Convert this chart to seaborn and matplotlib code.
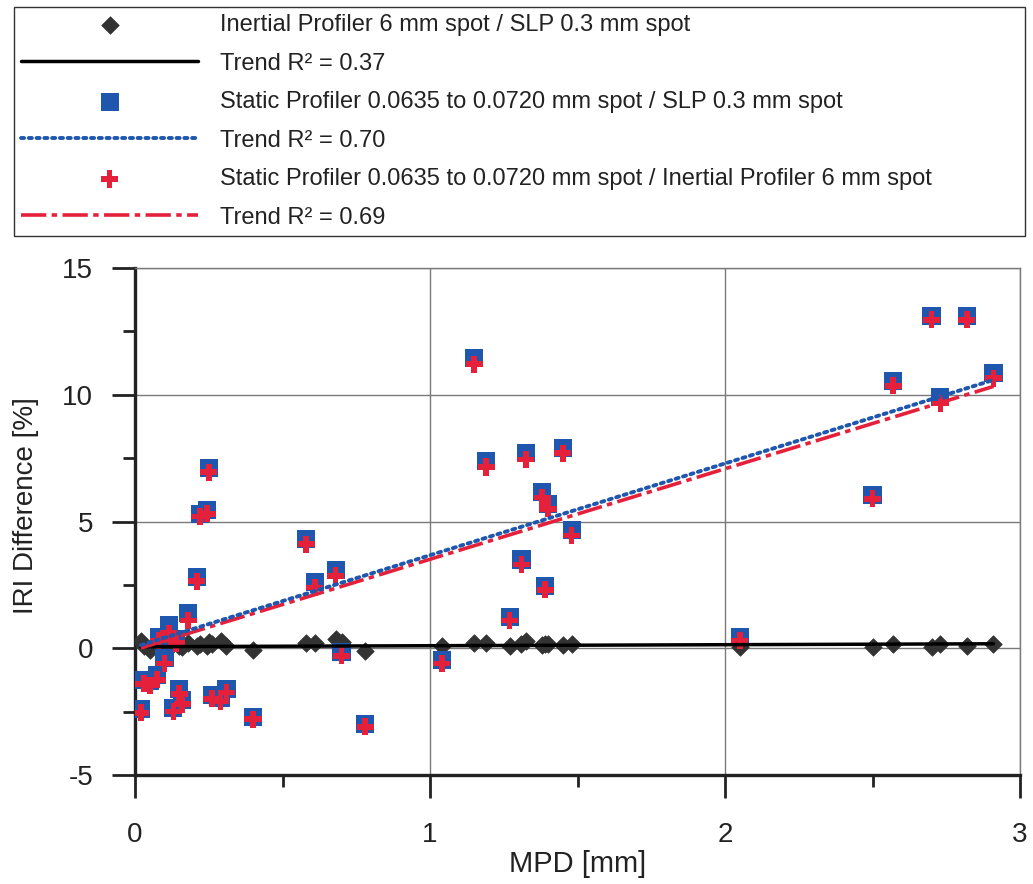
import numpy as np
import pandas as pd
import matplotlib
matplotlib.use("Agg")
import matplotlib.pyplot as plt
import seaborn as sns
from matplotlib.ticker import MultipleLocator

# ---- data ----
mpd = [0.02, 0.03, 0.05, 0.075, 0.08, 0.10, 0.115, 0.13, 0.14, 0.15, 0.16, 0.18,
       0.21, 0.22, 0.25, 0.245, 0.26, 0.29, 0.31, 0.40, 0.58, 0.61, 0.68, 0.70,
       0.78, 1.04, 1.15, 1.19, 1.27, 1.31, 1.325, 1.38, 1.39, 1.40, 1.45, 1.48,
       2.05, 2.50, 2.57, 2.70, 2.73, 2.82, 2.91]
inertial_vs_slp = [0.30, 0.10, -0.05, 0.20, 0.30, 0.10, 0.20, 0.15, 0.25, 0.10, 0.05, 0.20,
                   0.10, 0.15, 0.25, 0.10, 0.15, 0.30, 0.10, -0.05, 0.20, 0.20, 0.35, 0.25,
                   -0.10, 0.10, 0.20, 0.22, 0.08, 0.18, 0.30, 0.12, 0.18, 0.15, 0.12, 0.15,
                   0.05, 0.05, 0.18, 0.05, 0.18, 0.10, 0.18]
static_vs_slp = [-2.40, -1.25, -1.30, -1.05, 0.45, -0.40, 0.90, -2.35, 0.35, -1.60, -2.05, 1.40,
                 2.80, 5.30, 7.10, 5.45, -1.85, -1.95, -1.60, -2.70, 4.30, 2.60, 3.10, -0.15,
                 -3.00, -0.45, 11.45, 7.40, 1.25, 3.50, 7.70, 6.15, 2.45, 5.70, 7.90, 4.65,
                 0.45, 6.05, 10.55, 13.10, 9.90, 13.10, 10.85]
static_vs_inertial = [-2.55, -1.40, -1.45, -1.25, 0.30, -0.60, 0.60, -2.50, 0.20, -1.80, -2.20, 1.10,
                      2.65, 5.20, 6.95, 5.30, -2.00, -2.10, -1.75, -2.80, 4.10, 2.40, 2.85, -0.30,
                      -3.10, -0.60, 11.20, 7.15, 1.10, 3.30, 7.45, 5.95, 2.30, 5.50, 7.70, 4.45,
                      0.30, 5.90, 10.35, 12.95, 9.65, 12.95, 10.65]

# linear trend lines (intercept, slope) for each series
trend_intercept = [0.06, 0.05, -0.06]
trend_slope = [0.04, 3.62, 3.57]

legend_labels = [
    "Inertial Profiler 6 mm spot / SLP 0.3 mm spot",
    "Trend R\u00b2 = 0.37",
    "Static Profiler 0.0635 to 0.0720 mm spot / SLP 0.3 mm spot",
    "Trend R\u00b2 = 0.70",
    "Static Profiler 0.0635 to 0.0720 mm spot / Inertial Profiler 6 mm spot",
    "Trend R\u00b2 = 0.69",
]
x_label = "MPD [mm]"
y_label = "IRI Difference [%]"

# ---- style ----
sns.set_theme(style="white")
plt.rcParams["font.family"] = ["Liberation Sans", "DejaVu Sans"]
plt.rcParams["axes.unicode_minus"] = False

df = pd.DataFrame({"mpd": mpd, "ivs": inertial_vs_slp,
                   "svs": static_vs_slp, "svi": static_vs_inertial})

x_rng = np.array([min(mpd), max(mpd)])
trend_df = pd.DataFrame({
    "mpd": np.tile(x_rng, 3),
    "val": np.concatenate([trend_intercept[i] + trend_slope[i] * x_rng for i in range(3)]),
    "series": np.repeat(["ivs", "svs", "svi"], 2),
})

W, H = 1033, 884
fig = plt.figure(figsize=(W / 100, H / 100), dpi=100)
ax = fig.add_axes([135 / W, 1 - 775 / H, (1020 - 135) / W, (775 - 268) / H])

c_dark = "#333333"
c_blue = "#1f56ae"
c_red = "#e4203a"

sns.scatterplot(data=df, x="mpd", y="ivs", marker="D", s=80, color=c_dark,
                edgecolor=c_dark, linewidth=0.5, ax=ax, zorder=3)
sns.scatterplot(data=df, x="mpd", y="svs", marker="s", s=170, color=c_blue,
                edgecolor="none", ax=ax, zorder=3)
sns.scatterplot(data=df, x="mpd", y="svi", marker="P", s=150, color=c_red,
                edgecolor="none", ax=ax, zorder=3)
h_d, h_s, h_p = ax.collections[0], ax.collections[1], ax.collections[2]

sns.lineplot(data=trend_df[trend_df.series == "ivs"], x="mpd", y="val", ax=ax,
             color="black", lw=2.5, zorder=4, legend=False)
l_k = ax.lines[-1]
sns.lineplot(data=trend_df[trend_df.series == "svi"], x="mpd", y="val", ax=ax,
             color=c_red, lw=2.6, zorder=4, legend=False)
l_r = ax.lines[-1]
l_r.set_dashes((7, 1.5, 1.5, 1.5))
sns.lineplot(data=trend_df[trend_df.series == "svs"], x="mpd", y="val", ax=ax,
             color=c_blue, lw=2.8, zorder=5, legend=False)
l_b = ax.lines[-1]
l_b.set_linestyle((0, (0.8, 1.2)))
l_b.set_dash_capstyle("round")

ax.set_xlim(0, 3)
ax.set_ylim(-5, 15)
ax.xaxis.set_major_locator(MultipleLocator(1))
ax.xaxis.set_minor_locator(MultipleLocator(0.5))
ax.yaxis.set_major_locator(MultipleLocator(5))
ax.yaxis.set_minor_locator(MultipleLocator(2.5))
ax.grid(True, which="major", color="#7a7a7a", lw=1)
ax.set_axisbelow(True)

for s in ["left", "bottom"]:
    ax.spines[s].set_color("#222222")
    ax.spines[s].set_linewidth(2.4)
for s in ["top", "right"]:
    ax.spines[s].set_color("#7a7a7a")
    ax.spines[s].set_linewidth(1)

ax.tick_params(which="both", direction="out", left=True, bottom=True,
               color="#222222", width=2)
ax.tick_params(which="major", length=16.5, labelsize=20, labelcolor="#222222")
ax.tick_params(which="minor", length=8.5)
ax.tick_params(axis="y", which="major", pad=13.5)
ax.tick_params(axis="x", which="major", pad=17)

ax.set_xlabel(x_label, fontsize=21, color="#222222", labelpad=1.5)
ax.set_ylabel(y_label, fontsize=20, color="#222222")
ax.yaxis.set_label_coords(-0.108, 0.532)

leg = fig.legend([h_d, l_k, h_s, l_b, h_p, l_r], legend_labels,
                 loc="upper left",
                 bbox_to_anchor=(14 / W, 1 - 7 / H - 0.01, (1025 - 14) / W, 0.01),
                 mode="expand", ncol=1, fontsize=17, frameon=True, fancybox=False,
                 edgecolor="#333333", framealpha=1, borderpad=0.3,
                 handlelength=7.5, handletextpad=0.93, labelspacing=0.7,
                 scatterpoints=1, borderaxespad=0)
leg.get_frame().set_linewidth(1.0)
for t in leg.get_texts():
    t.set_color("#222222")

fig.savefig("out.png", dpi=100, facecolor="white")
